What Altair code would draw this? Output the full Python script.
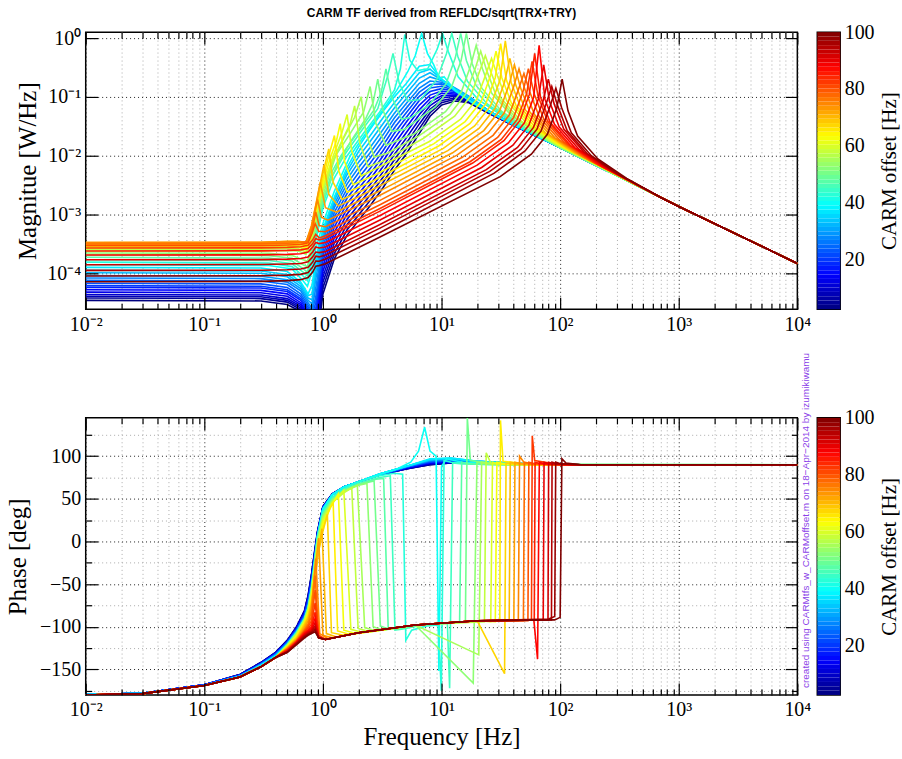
import altair as alt
import numpy as np
import pandas as pd

SERIF = "Liberation Serif"
SANS = "Liberation Sans"

TITLE = "CARM TF derived from REFLDC/sqrt(TRX+TRY)"
CREDIT = "created using CARMtfs_w_CARMoffset.m on 18\u2212Apr\u22122014 by izumikiwamu"
MAG_LABEL = "Magnitue [W/Hz]"
PH_LABEL = "Phase [deg]"
F_LABEL = "Frequency [Hz]"
CB_LABEL = "CARM offset [Hz]"

X_DECADES = [0.01, 0.1, 1, 10, 100, 1000, 10000]
X_MINOR = [k * 10.0 ** d for d in range(-2, 4) for k in range(2, 10)]
MAG_DECADES = [1e-4, 1e-3, 1e-2, 1e-1, 1]
PH_MAJOR = [-150, -100, -50, 0, 50, 100]
PH_MINOR = [-175, -125, -75, -25, 25, 75, 125]
CB_TICKS = [20, 40, 60, 80, 100]

# ---------------- non-resonant (blue) curves : log10 magnitude on a shared grid
BLUE_OFFSETS = [2.5, 5.0, 7.5, 10.0, 12.5, 15.0, 17.5, 20.0, 22.5, 25.0, 27.5, 30.0, 32.5, 35.0, 37.5]
BLUE_MAG_F = [0.01, 0.3, 0.5, 0.65, 0.75, 0.81, 0.87, 1.0, 1.25, 1.6, 2.0, 2.5, 3.2, 4.0, 5.0, 6.5, 8.0, 10, 13, 17, 25, 40, 100]
LM_02_5 = [-4.46, -4.47, -4.53, -4.65, -4.85, -5.20, -5.30, -4.35, -3.75, -3.35, -3.10, -2.85, -2.55, -2.25, -1.98, -1.62, -1.33, -1.14, -1.07, -1.10, -1.28, -1.48, -1.86]
LM_05_0 = [-4.42, -4.43, -4.49, -4.62, -4.82, -5.10, -5.20, -4.25, -3.66, -3.26, -3.01, -2.76, -2.46, -2.16, -1.89, -1.54, -1.27, -1.10, -1.04, -1.09, -1.28, -1.48, -1.86]
LM_07_5 = [-4.39, -4.40, -4.46, -4.59, -4.79, -5.00, -5.10, -4.15, -3.57, -3.17, -2.92, -2.67, -2.37, -2.07, -1.80, -1.46, -1.21, -1.06, -1.02, -1.08, -1.27, -1.48, -1.86]
LM_10_0 = [-4.36, -4.37, -4.43, -4.56, -4.76, -4.95, -5.00, -4.06, -3.48, -3.08, -2.83, -2.58, -2.28, -1.98, -1.71, -1.38, -1.15, -1.02, -0.99, -1.07, -1.27, -1.48, -1.86]
LM_12_5 = [-4.32, -4.33, -4.39, -4.53, -4.73, -4.90, -4.90, -3.97, -3.39, -2.99, -2.74, -2.49, -2.19, -1.89, -1.62, -1.30, -1.09, -0.98, -0.97, -1.06, -1.26, -1.47, -1.86]
LM_15_0 = [-4.28, -4.29, -4.35, -4.50, -4.70, -4.85, -4.80, -3.88, -3.30, -2.90, -2.65, -2.40, -2.10, -1.80, -1.53, -1.22, -1.03, -0.94, -0.95, -1.05, -1.26, -1.47, -1.86]
LM_17_5 = [-4.24, -4.25, -4.31, -4.46, -4.66, -4.80, -4.70, -3.79, -3.21, -2.81, -2.56, -2.31, -2.01, -1.71, -1.44, -1.14, -0.97, -0.90, -0.93, -1.04, -1.25, -1.47, -1.86]
LM_20_0 = [-4.21, -4.22, -4.28, -4.43, -4.62, -4.75, -4.60, -3.70, -3.12, -2.72, -2.47, -2.22, -1.92, -1.62, -1.36, -1.06, -0.91, -0.86, -0.91, -1.03, -1.25, -1.47, -1.86]
LM_22_5 = [-4.17, -4.18, -4.24, -4.39, -4.58, -4.70, -4.50, -3.62, -3.04, -2.64, -2.38, -2.13, -1.83, -1.53, -1.28, -0.99, -0.85, -0.82, -0.89, -1.02, -1.25, -1.47, -1.86]
LM_25_0 = [-4.12, -4.13, -4.19, -4.35, -4.54, -4.65, -4.40, -3.54, -2.96, -2.56, -2.29, -2.04, -1.74, -1.44, -1.20, -0.92, -0.79, -0.78, -0.87, -1.01, -1.24, -1.47, -1.86]
LM_27_5 = [-4.08, -4.09, -4.15, -4.30, -4.50, -4.60, -4.25, -3.46, -2.88, -2.48, -2.20, -1.95, -1.65, -1.36, -1.12, -0.85, -0.73, -0.75, -0.86, -1.00, -1.24, -1.46, -1.86]
LM_30_0 = [-4.04, -4.05, -4.11, -4.26, -4.46, -4.52, -4.10, -3.40, -2.82, -2.40, -2.11, -1.86, -1.56, -1.28, -1.04, -0.77, -0.66, -0.72, -0.85, -0.99, -1.24, -1.46, -1.86]
LM_32_5 = [-3.99, -4.00, -4.06, -4.22, -4.42, -4.45, -3.97, -3.34, -2.76, -2.32, -2.02, -1.76, -1.46, -1.19, -0.95, -0.68, -0.59, -0.71, -0.86, -1.00, -1.24, -1.46, -1.86]
LM_35_0 = [-3.95, -3.96, -4.02, -4.18, -4.38, -4.35, -3.85, -3.29, -2.73, -2.26, -1.93, -1.66, -1.36, -1.10, -0.87, -0.59, -0.53, -0.70, -0.87, -1.01, -1.24, -1.46, -1.86]
LM_37_5 = [-3.90, -3.91, -3.97, -4.15, -4.35, -4.20, -3.75, -3.25, -2.70, -2.20, -1.85, -1.55, -1.25, -1.00, -0.78, -0.48, -0.45, -0.70, -0.90, -1.05, -1.25, -1.47, -1.86]

# phase of the blue curves on a shared grid
BLUE_PH_F = [0.01, 0.03, 0.1, 0.2, 0.3, 0.4, 0.5, 0.6, 0.7, 0.75, 0.8, 0.85, 0.9, 1.0, 1.2, 1.5, 2, 3, 5, 8, 12, 20, 50, 150, 10000]
PB_02_5 = [-179.5, -178, -168, -156, -142, -130, -116, -100, -81, -63, -39, -12, 12, 41, 56, 64, 70, 78, 85, 90, 92, 92, 91, 90, 90]
PB_05_0 = [-179.5, -178, -168, -156, -142, -130, -116, -100, -81, -64, -40, -13, 11, 41, 56, 64, 70, 78, 85, 90, 92, 92, 91, 90, 90]
PB_07_5 = [-179.5, -178, -168, -156, -142, -130, -117, -101, -82, -65, -41, -14, 11, 41, 56, 64, 70, 78, 85, 91, 92, 92, 91, 90, 90]
PB_10_0 = [-179.5, -178, -168, -156, -143, -131, -117, -101, -83, -66, -42, -15, 10, 40, 56, 64, 70, 78, 86, 91, 93, 92, 91, 90, 90]
PB_12_5 = [-179.5, -178, -168, -157, -143, -131, -117, -102, -84, -67, -44, -16, 10, 40, 55, 64, 70, 78, 86, 92, 93, 92, 91, 90, 90]
PB_15_0 = [-179.5, -178, -168, -157, -143, -131, -118, -102, -84, -68, -45, -17, 9, 40, 55, 64, 70, 78, 86, 92, 94, 92, 91, 90, 90]
PB_17_5 = [-179.5, -178, -168, -157, -143, -132, -118, -103, -85, -69, -46, -18, 9, 40, 55, 64, 70, 78, 87, 93, 94, 93, 91, 90, 90]
PB_20_0 = [-179.5, -178, -168, -157, -144, -132, -118, -103, -86, -70, -47, -19, 8, 39, 55, 64, 70, 78, 87, 93, 95, 93, 91, 90, 90]
PB_22_5 = [-179.5, -178, -168, -157, -144, -132, -119, -104, -87, -72, -49, -20, 8, 39, 55, 64, 70, 78, 87, 94, 95, 93, 91, 90, 90]
PB_25_0 = [-179.5, -178, -169, -158, -144, -133, -119, -104, -88, -73, -50, -21, 7, 39, 55, 64, 70, 78, 87, 94, 96, 93, 91, 90, 90]
PB_27_5 = [-179.5, -178, -169, -158, -144, -133, -119, -105, -88, -74, -52, -22, 7, 39, 55, 64, 70, 79, 88, 95, 96, 94, 91, 90, 90]
PB_30_0 = [-179.5, -178, -169, -158, -145, -133, -120, -105, -89, -76, -53, -23, 6, 38, 55, 64, 70, 79, 88, 95, 97, 94, 91, 90, 90]
PB_32_5 = [-179.5, -178, -169, -158, -145, -134, -120, -106, -90, -77, -55, -24, 6, 38, 55, 64, 70, 79, 88, 96, 97, 94, 91, 90, 90]
PB_35_0 = [-179.5, -178, -169, -158, -145, -134, -121, -106, -90, -78, -56, -24, 5, 38, 55, 64, 70, 79, 88, 96, 98, 94, 91, 90, 90]
PB_37_5 = [-179.5, -178, -169, -158, -145, -134, -121, -107, -91, -79, -57, -25, 5, 38, 55, 64, 70, 79, 88, 97, 98, 94, 91, 90, 90]

# common high-frequency asymptote and common low-frequency phase start
MAG_TAIL = [(700, 1.96e-3), (1000, 1.37e-3), (10000, 1.47e-4)]
PH_START = [(0.01, -180), (0.03, -178.5), (0.1, -169), (0.2, -159), (0.3, -147), (0.4, -136)]

# ---------------- resonant curves (frequency, magnitude)
MAG_R40_0 = [(0.01, 1.4e-4), (0.35, 1.36e-4), (0.55, 1.18e-4), (0.68, 7.5e-5), (0.74, 6.0e-5), (0.8, 1.0e-4), (0.87, 2.6e-4), (1.0, 7.0e-4), (1.25, 2.5e-3), (1.7, 1.0e-2), (2.3, 2.4e-2), (3.2, 6.0e-2), (4.2, 0.13), (5.2, 0.27), (6.0, 0.5), (6.8, 1.2), (7.6, 0.55), (8.6, 0.35), (9.6, 0.2), (10.5, 0.22), (13, 0.13), (18, 0.08), (30, 0.046), (60, 0.023), (100, 0.0138)]
MAG_R42_5 = [(0.01, 1.55e-4), (0.35, 1.5e-4), (0.55, 1.3e-4), (0.68, 9.0e-5), (0.74, 7.5e-5), (0.8, 1.4e-4), (0.87, 3.6e-4), (1.0, 1.3e-3), (1.25, 4.2e-3), (1.6, 1.0e-2), (2.2, 0.024), (3.0, 0.055), (4.0, 0.13), (4.5, 0.3), (4.9, 1.15), (5.4, 0.42), (6.3, 0.28), (7.65, 0.3), (9.2, 0.65), (10.2, 1.2), (11.4, 0.59), (13.8, 0.22), (20.4, 0.09), (35.7, 0.042), (100, 0.0138)]
MAG_R45_0 = [(0.01, 1.7e-4), (0.35, 1.65e-4), (0.55, 1.45e-4), (0.68, 1.05e-4), (0.74, 9.0e-5), (0.8, 1.7e-4), (0.87, 4.5e-4), (1.0, 1.5e-3), (1.2, 4.5e-3), (1.5, 1.0e-2), (2.1, 0.026), (2.9, 0.063), (3.5, 0.22), (3.9, 0.55), (4.4, 0.17), (5.2, 0.085), (6.7, 0.09), (9.15, 0.2), (11.0, 0.54), (12.2, 1.2), (13.7, 0.49), (16.5, 0.185), (24.4, 0.075), (42.7, 0.035), (100, 0.0138)]
MAG_R47_5 = [(0.01, 1.87e-4), (0.35, 1.82e-4), (0.55, 1.62e-4), (0.68, 1.2e-4), (0.74, 1.05e-4), (0.8, 2.0e-4), (0.87, 5.3e-4), (1.0, 1.7e-3), (1.2, 5.5e-3), (1.42, 1.0e-2), (2.0, 0.026), (2.7, 0.06), (3.1, 0.12), (3.4, 0.3), (3.8, 0.1), (4.6, 0.042), (5.6, 0.045), (8.0, 0.076), (10.9, 0.166), (13.05, 0.457), (14.5, 1.2), (16.2, 0.416), (19.6, 0.155), (29, 0.063), (50.8, 0.029), (100, 0.0138)]
MAG_R50_0 = [(0.01, 2.05e-4), (0.35, 2.0e-4), (0.55, 1.8e-4), (0.68, 1.4e-4), (0.74, 1.3e-4), (0.8, 2.4e-4), (0.87, 6.0e-4), (1.0, 1.9e-3), (1.3, 6.5e-3), (1.7, 0.017), (2.3, 0.043), (2.65, 0.08), (2.9, 0.2), (3.2, 0.06), (3.8, 0.026), (4.86, 0.028), (8.9, 0.068), (12.15, 0.148), (14.6, 0.41), (16.2, 1.2), (18.1, 0.37), (21.9, 0.139), (32.4, 0.056), (56.7, 0.026), (100, 0.0138)]
MAG_R52_5 = [(0.01, 2.22e-4), (0.35, 2.18e-4), (0.55, 2.0e-4), (0.68, 1.7e-4), (0.74, 1.6e-4), (0.8, 2.8e-4), (0.87, 7.0e-4), (1.0, 2.1e-3), (1.28, 1.0e-2), (1.7, 0.024), (2.2, 0.055), (2.5, 0.15), (2.8, 0.035), (3.4, 0.015), (5.9, 0.0235), (10.8, 0.056), (14.7, 0.122), (17.6, 0.338), (19.6, 0.75), (22, 0.308), (26.5, 0.115), (39.2, 0.047), (68.6, 0.022), (100, 0.0138)]
MAG_R55_0 = [(0.01, 2.4e-4), (0.3, 2.4e-4), (0.5, 2.45e-4), (0.62, 2.4e-4), (0.72, 2.1e-4), (0.8, 3.5e-4), (0.9, 1.1e-3), (1.0, 2.5e-3), (1.2, 7.5e-3), (1.5, 0.02), (1.85, 0.045), (2.1, 0.1), (2.3, 0.025), (2.7, 9.5e-3), (3.5, 0.011), (6.4, 0.0215), (11.8, 0.051), (16, 0.112), (19.3, 0.31), (21.4, 0.6), (24, 0.282), (28.9, 0.105), (42.8, 0.043), (74.9, 0.02), (100, 0.0145)]
MAG_R57_5 = [(0.01, 2.58e-4), (0.3, 2.58e-4), (0.5, 2.66e-4), (0.62, 2.62e-4), (0.72, 2.3e-4), (0.8, 3.8e-4), (0.9, 1.2e-3), (1.0, 2.7e-3), (1.2, 8.0e-3), (1.5, 0.021), (1.7, 0.035), (1.85, 0.07), (2.05, 0.016), (2.4, 6.5e-3), (3.2, 8.0e-3), (7.0, 0.0196), (12.9, 0.047), (17.55, 0.1025), (21.1, 0.283), (23.4, 0.5), (26.2, 0.257), (31.6, 0.096), (46.8, 0.039), (81.9, 0.018)]
MAG_R60_0 = [(0.01, 2.75e-4), (0.3, 2.76e-4), (0.5, 2.86e-4), (0.62, 2.82e-4), (0.72, 2.5e-4), (0.8, 4.2e-4), (0.9, 1.3e-3), (1.0, 3.0e-3), (1.2, 9.0e-3), (1.45, 0.025), (1.6, 0.05), (1.75, 0.012), (2.1, 4.5e-3), (3.0, 6.5e-3), (7.9, 0.0174), (14.5, 0.0417), (19.8, 0.091), (23.8, 0.251), (26.4, 0.45), (29.6, 0.2285), (35.6, 0.085), (52.8, 0.0346), (92.4, 0.0161)]
MAG_R62_5 = [(0.01, 2.9e-4), (0.3, 2.92e-4), (0.5, 3.03e-4), (0.62, 3.0e-4), (0.72, 2.7e-4), (0.8, 4.6e-4), (0.9, 1.4e-3), (1.0, 3.4e-3), (1.15, 9.0e-3), (1.3, 0.018), (1.4, 0.035), (1.52, 8.0e-3), (1.8, 3.2e-3), (2.8, 4.8e-3), (8.64, 0.016), (15.8, 0.038), (21.6, 0.083), (25.9, 0.23), (28.8, 0.6), (32.3, 0.209), (38.9, 0.078), (57.6, 0.0317), (100.8, 0.0148)]
MAG_R65_0 = [(0.01, 3.05e-4), (0.3, 3.08e-4), (0.5, 3.2e-4), (0.62, 3.18e-4), (0.72, 2.9e-4), (0.8, 5.0e-4), (0.9, 1.6e-3), (1.0, 4.0e-3), (1.12, 0.01), (1.25, 0.022), (1.36, 5.5e-3), (1.6, 2.4e-3), (2.5, 3.5e-3), (9.45, 0.0146), (17.3, 0.035), (23.6, 0.076), (28.35, 0.21), (31.5, 0.8), (35.3, 0.191), (42.5, 0.0713), (63, 0.0289), (110, 0.0135)]
MAG_R67_5 = [(0.01, 3.2e-4), (0.3, 3.23e-4), (0.5, 3.36e-4), (0.62, 3.34e-4), (0.72, 3.05e-4), (0.8, 5.5e-4), (0.9, 1.8e-3), (1.0, 5.0e-3), (1.12, 0.013), (1.22, 3.5e-3), (1.45, 1.8e-3), (2.2, 2.6e-3), (10.35, 0.0133), (19, 0.032), (25.9, 0.07), (31.05, 0.192), (34.5, 0.9), (38.6, 0.175), (46.6, 0.065), (69, 0.0265), (120.8, 0.0124)]
MAG_R70_0 = [(0.01, 3.3e-4), (0.3, 3.33e-4), (0.5, 3.46e-4), (0.62, 3.45e-4), (0.72, 3.2e-4), (0.8, 6.0e-4), (0.9, 2.0e-3), (1.02, 7.0e-3), (1.12, 2.2e-3), (1.35, 1.4e-3), (2.0, 2.0e-3), (11.3, 0.0122), (20.7, 0.029), (28.3, 0.064), (33.9, 0.176), (37.7, 0.45), (42.2, 0.16), (50.9, 0.06), (75.4, 0.0242), (132, 0.0113)]
MAG_R72_5 = [(0.01, 3.35e-4), (0.3, 3.38e-4), (0.5, 3.5e-4), (0.62, 3.5e-4), (0.72, 3.3e-4), (0.8, 6.5e-4), (0.88, 1.6e-3), (0.95, 3.5e-3), (1.05, 1.3e-3), (1.3, 1.1e-3), (3.0, 2.5e-3), (12.4, 0.0112), (22.7, 0.0267), (30.9, 0.058), (37.1, 0.161), (41.2, 0.35), (46.1, 0.1465), (55.6, 0.055), (82.4, 0.0222), (144, 0.0104)]
MAG_R75_0 = [(0.01, 3.3e-4), (0.3, 3.32e-4), (0.5, 3.42e-4), (0.62, 3.45e-4), (0.72, 3.4e-4), (0.8, 6.0e-4), (0.9, 1.8e-3), (0.97, 9.0e-4), (1.1, 8.0e-4), (3.0, 2.1e-3), (13.5, 0.0102), (24.75, 0.0244), (33.75, 0.053), (40.5, 0.147), (45, 0.3), (50.4, 0.134), (60.75, 0.05), (90, 0.0203), (157.5, 0.0095)]
MAG_R77_5 = [(0.01, 3.15e-4), (0.3, 3.17e-4), (0.5, 3.25e-4), (0.65, 3.3e-4), (0.75, 3.5e-4), (0.82, 6.0e-4), (0.87, 1.1e-3), (0.93, 6.5e-4), (1.05, 6.2e-4), (3.0, 1.72e-3), (14.85, 0.0093), (27.2, 0.0222), (37.1, 0.0485), (44.55, 0.134), (49.5, 0.25), (55.4, 0.122), (66.8, 0.0455), (99, 0.0184), (173, 0.0086)]
MAG_R80_0 = [(0.01, 2.95e-4), (0.3, 2.96e-4), (0.5, 3.02e-4), (0.65, 3.08e-4), (0.75, 3.3e-4), (0.81, 4.8e-4), (0.86, 7.0e-4), (0.92, 5.2e-4), (1.05, 5.1e-4), (3.0, 1.45e-3), (16.2, 0.0085), (29.7, 0.0204), (40.5, 0.0444), (48.6, 0.123), (54, 0.3), (60.5, 0.1115), (72.9, 0.0416), (108, 0.0169), (189, 0.0079)]
MAG_R82_5 = [(0.01, 2.7e-4), (0.3, 2.71e-4), (0.5, 2.76e-4), (0.65, 2.82e-4), (0.75, 3.0e-4), (0.82, 3.7e-4), (0.87, 4.6e-4), (0.93, 4.0e-4), (1.05, 4.35e-4), (3.0, 1.25e-3), (17.4, 0.0079), (31.9, 0.0189), (43.5, 0.0413), (52.2, 0.114), (58, 0.4), (65, 0.104), (78.3, 0.0387), (116, 0.0157), (203, 0.0073)]
MAG_R85_0 = [(0.01, 2.4e-4), (0.3, 2.41e-4), (0.5, 2.45e-4), (0.65, 2.5e-4), (0.75, 2.65e-4), (0.82, 3.2e-4), (0.87, 3.9e-4), (0.93, 3.7e-4), (1.05, 3.95e-4), (3.0, 1.13e-3), (18.3, 0.0075), (33.55, 0.018), (45.75, 0.0394), (54.9, 0.109), (61, 0.55), (68.3, 0.099), (82.35, 0.037), (122, 0.015), (213.5, 0.007)]
MAG_R87_5 = [(0.01, 2.05e-4), (0.3, 2.06e-4), (0.5, 2.1e-4), (0.65, 2.15e-4), (0.75, 2.3e-4), (0.82, 2.8e-4), (0.87, 3.35e-4), (0.93, 3.2e-4), (1.05, 3.35e-4), (3.0, 9.5e-4), (19.95, 0.0069), (36.6, 0.0165), (49.9, 0.036), (59.85, 0.0995), (66.5, 0.75), (74.5, 0.0905), (89.8, 0.0338), (133, 0.0137), (232.75, 0.0064)]
MAG_R90_0 = [(0.01, 1.7e-4), (0.3, 1.71e-4), (0.5, 1.74e-4), (0.65, 1.78e-4), (0.75, 1.9e-4), (0.82, 2.3e-4), (0.87, 2.8e-4), (0.93, 2.7e-4), (1.05, 2.8e-4), (3.0, 8.0e-4), (21.8, 0.0063), (40, 0.0151), (54.5, 0.033), (65.4, 0.0912), (72.7, 0.35), (81.4, 0.083), (98.1, 0.031), (145.4, 0.0126), (254.5, 0.0059)]
MAG_R92_5 = [(0.01, 1.4e-4), (0.3, 1.41e-4), (0.5, 1.44e-4), (0.65, 1.47e-4), (0.75, 1.57e-4), (0.82, 1.9e-4), (0.87, 2.3e-4), (0.93, 2.25e-4), (1.05, 2.35e-4), (3.0, 6.7e-4), (23.85, 0.0058), (43.7, 0.0138), (59.6, 0.0302), (71.55, 0.0834), (79.5, 0.2), (89, 0.0759), (107.3, 0.0283), (159, 0.0115), (278, 0.0054)]
MAG_R95_0 = [(0.01, 1.12e-4), (0.3, 1.13e-4), (0.5, 1.15e-4), (0.65, 1.18e-4), (0.75, 1.26e-4), (0.82, 1.55e-4), (0.87, 1.95e-4), (0.93, 1.9e-4), (1.05, 2.05e-4), (3.0, 5.8e-4), (25.5, 0.0054), (46.75, 0.0129), (63.75, 0.0282), (76.5, 0.078), (85, 0.15), (95.2, 0.0709), (114.75, 0.0265), (170, 0.0107), (297.5, 0.005)]
MAG_R97_5 = [(0.01, 9.0e-5), (0.3, 9.1e-5), (0.5, 9.3e-5), (0.65, 9.6e-5), (0.75, 1.03e-4), (0.82, 1.28e-4), (0.87, 1.62e-4), (0.93, 1.6e-4), (1.05, 1.75e-4), (3.0, 4.9e-4), (27.6, 0.005), (50.6, 0.012), (69, 0.0261), (82.8, 0.072), (92, 0.14), (103, 0.0655), (124.2, 0.0245), (184, 0.0099), (322, 0.0046)]
MAG_R100 = [(0.01, 7.2e-5), (0.3, 7.3e-5), (0.5, 7.5e-5), (0.65, 7.8e-5), (0.75, 8.5e-5), (0.82, 1.05e-4), (0.87, 1.32e-4), (0.93, 1.35e-4), (1.05, 1.45e-4), (3.0, 4.1e-4), (31.2, 0.0044), (57.2, 0.0106), (78, 0.0231), (93.6, 0.0638), (104, 0.2), (116.5, 0.058), (140.4, 0.0216), (208, 0.0088), (364, 0.0041)]

# ---------------- resonant curves (frequency, phase) after the common start
PH_R40_0 = [(0.5, -121), (0.6, -107), (0.7, -91), (0.75, -79), (0.8, -57), (0.85, -25), (0.9, 5), (1.0, 38), (1.2, 55), (1.5, 64), (2, 70), (3, 79), (4.2, 85), (5.5, 93), (6.4, 106), (7.2, 134), (8.0, 106), (9.0, 100), (9.5, -152), (10.0, 88), (11, 97), (15, 93), (30, 91), (100, 90), (10000, 90)]
PH_R42_5 = [(0.5, -121), (0.6, -107), (0.7, -91), (0.75, -78), (0.8, -56), (0.85, -25), (0.9, 4), (1.0, 35), (1.2, 52), (1.5, 62), (2.0, 70), (3.0, 77), (4.0, 80), (4.7, 79), (5.0, -116), (5.6, -104), (7.5, -99), (9.4, -98), (9.95, -175), (10.5, 95), (12, 93), (20, 91), (60, 90), (10000, 90)]
PH_R45_0 = [(0.5, -121), (0.6, -107), (0.7, -91), (0.75, -78), (0.8, -57), (0.85, -26), (0.9, 3), (1.0, 33), (1.2, 51), (1.5, 61), (2.0, 68), (3.0, 75), (3.7, 77), (4.05, -104), (4.6, -103), (7, -98), (11.2, -96), (11.7, -172), (12.4, 92), (15, 91), (30, 90), (10000, 90)]
PH_R47_5 = [(0.5, -121), (0.6, -107), (0.7, -91), (0.75, -78), (0.8, -57), (0.85, -27), (0.9, 2), (1.0, 32), (1.2, 50), (1.5, 60), (2.0, 67), (2.8, 73), (3.25, 74), (3.55, -101), (4.2, -103), (7, -98), (14.2, -95), (14.8, 93), (17, 91), (30, 90), (10000, 90)]
PH_R50_0 = [(0.5, -122), (0.6, -108), (0.7, -91), (0.75, -79), (0.8, -58), (0.85, -28), (0.9, 1), (1.0, 31), (1.2, 49), (1.5, 60), (2.0, 67), (2.7, 71), (3.05, -99), (3.6, -103), (6, -98), (15.9, -94), (16.5, 145), (17.5, 95), (30, 91), (10000, 90)]
PH_R52_5 = [(0.5, -122), (0.6, -108), (0.7, -92), (0.75, -80), (0.8, -59), (0.85, -29), (0.9, 0), (1.0, 30), (1.2, 48), (1.5, 59), (2.0, 66), (2.35, 68), (2.65, -100), (3.2, -104), (6, -98), (18.5, -166), (19.9, 93), (24, 91), (40, 90), (10000, 90)]
PH_R55_0 = [(0.5, -122), (0.6, -109), (0.7, -92), (0.75, -80), (0.8, -60), (0.85, -31), (0.9, -2), (1.0, 28), (1.2, 47), (1.5, 58), (1.95, 66), (2.25, -101), (2.8, -105), (6, -98), (20.6, -133), (21.8, 93), (26, 91), (40, 90), (10000, 90)]
PH_R57_5 = [(0.5, -123), (0.6, -109), (0.7, -93), (0.75, -81), (0.8, -61), (0.85, -33), (0.9, -4), (1.0, 26), (1.2, 46), (1.5, 57), (1.75, 63), (1.98, -102), (2.5, -106), (6, -98), (23, -94), (23.8, 104), (26, 92), (40, 90), (10000, 90)]
PH_R60_0 = [(0.5, -123), (0.6, -110), (0.7, -94), (0.75, -82), (0.8, -63), (0.85, -35), (0.9, -6), (1.0, 24), (1.2, 45), (1.5, 60), (1.72, -103), (2.2, -107), (6, -98), (20, -93), (26, -94), (26.9, 93), (30, 91), (50, 90), (10000, 90)]
PH_R62_5 = [(0.5, -123), (0.6, -111), (0.7, -95), (0.75, -84), (0.8, -65), (0.85, -38), (0.9, -9), (1.0, 21), (1.2, 44), (1.35, 56), (1.5, -104), (1.9, -108), (6, -98), (20, -93), (28.4, -94), (29.3, 93), (34, 91), (60, 90), (10000, 90)]
PH_R65_0 = [(0.5, -124), (0.6, -112), (0.7, -96), (0.75, -86), (0.8, -68), (0.85, -42), (0.9, -13), (1.0, 16), (1.15, 40), (1.22, 45), (1.33, -105), (1.7, -109), (6, -98), (20, -93), (31.0, -93), (31.4, 142), (33, 94), (60, 90), (10000, 90)]
PH_R67_5 = [(0.5, -124), (0.6, -113), (0.7, -97), (0.75, -88), (0.8, -71), (0.85, -46), (0.9, -17), (1.0, 12), (1.09, 32), (1.18, -107), (1.5, -110), (6, -98), (20, -93), (34.0, -155), (35.0, 92), (40, 91), (60, 90), (10000, 90)]
PH_R70_0 = [(0.5, -125), (0.6, -114), (0.7, -99), (0.75, -90), (0.8, -74), (0.85, -50), (0.9, -22), (0.98, 15), (1.07, -108), (1.3, -112), (2, -107), (6, -98), (20, -93), (37.2, -93), (38.0, 93), (44, 91), (80, 90), (10000, 90)]
PH_R72_5 = [(0.5, -125), (0.6, -115), (0.7, -101), (0.75, -93), (0.8, -78), (0.85, -40), (0.92, 4), (1.0, -110), (1.2, -113), (2, -107), (6, -98), (20, -93), (40.7, -93), (41.6, 93), (48, 91), (80, 90), (10000, 90)]
PH_R75_0 = [(0.5, -126), (0.6, -116), (0.7, -103), (0.75, -96), (0.8, -82), (0.87, -20), (0.94, -108), (1.1, -114), (2, -107), (6, -98), (20, -93), (44.4, -93), (45.5, 100), (50, 92), (80, 90), (10000, 90)]
PH_R77_5 = [(0.5, -126), (0.6, -116), (0.7, -104), (0.75, -98), (0.8, -88), (0.86, -40), (0.92, -110), (1.05, -115), (2, -107), (6, -98), (20, -93), (49, -93), (50, 93), (58, 91), (100, 90), (10000, 90)]
PH_R80_0 = [(0.5, -127), (0.6, -117), (0.7, -105), (0.75, -100), (0.8, -93), (0.86, -57), (0.92, -110), (1.05, -115), (2, -107), (6, -98), (20, -93), (53.5, -93), (54.5, 93), (62, 91), (100, 90), (10000, 90)]
PH_R82_5 = [(0.5, -127), (0.6, -117), (0.7, -106), (0.75, -102), (0.8, -97), (0.86, -72), (0.92, -111), (1.05, -115), (2, -107), (6, -98), (20, -93), (57.3, -92), (58.2, 124), (61, 95), (100, 90), (10000, 90)]
PH_R85_0 = [(0.5, -128), (0.6, -118), (0.7, -107), (0.75, -104), (0.8, -100), (0.86, -83), (0.92, -112), (1.05, -115), (2, -107), (6, -98), (20, -93), (60.5, -92), (61.5, 93), (70, 91), (100, 90), (10000, 90)]
PH_R87_5 = [(0.5, -128), (0.6, -118), (0.7, -108), (0.75, -105), (0.8, -102), (0.86, -90), (0.92, -112), (1.05, -115), (2, -107), (6, -98), (20, -93), (60, -92), (64.5, -138), (66.8, 93), (75, 91), (120, 90), (10000, 90)]
PH_R90_0 = [(0.5, -129), (0.6, -119), (0.7, -109), (0.75, -106), (0.8, -104), (0.86, -95), (0.92, -113), (1.05, -115), (2, -107), (6, -98), (20, -93), (72, -92), (73.2, 93), (82, 91), (120, 90), (10000, 90)]
PH_R92_5 = [(0.5, -129), (0.6, -119), (0.7, -110), (0.75, -107), (0.8, -105), (0.86, -99), (0.92, -113), (1.05, -115), (2, -107), (6, -98), (20, -93), (79, -92), (80, 93), (90, 91), (150, 90), (10000, 90)]
PH_R95_0 = [(0.5, -130), (0.6, -120), (0.7, -111), (0.75, -108), (0.8, -106), (0.86, -102), (0.92, -113), (1.05, -115), (2, -107), (6, -98), (20, -93), (84.5, -92), (85.5, 93), (95, 91), (150, 90), (10000, 90)]
PH_R97_5 = [(0.5, -130), (0.6, -120), (0.7, -112), (0.75, -109), (0.8, -107), (0.86, -104), (0.92, -113), (1.05, -115), (2, -107), (6, -98), (20, -93), (80, -91), (90, -88), (91.8, 93), (102, 91), (150, 90), (10000, 90)]
PH_R100 = [(0.5, -130), (0.6, -121), (0.7, -113), (0.75, -110), (0.8, -108), (0.86, -106), (0.92, -113), (1.05, -115), (2, -107), (6, -98), (20, -93), (90, -92), (100, -89), (103.5, 97), (112, 92), (150, 90), (10000, 90)]

# ---------------- assemble tables
BLUE_LM = [LM_02_5, LM_05_0, LM_07_5, LM_10_0, LM_12_5, LM_15_0, LM_17_5, LM_20_0,
           LM_22_5, LM_25_0, LM_27_5, LM_30_0, LM_32_5, LM_35_0, LM_37_5]
BLUE_PB = [PB_02_5, PB_05_0, PB_07_5, PB_10_0, PB_12_5, PB_15_0, PB_17_5, PB_20_0,
           PB_22_5, PB_25_0, PB_27_5, PB_30_0, PB_32_5, PB_35_0, PB_37_5]
RES_OFFSETS = [40.0, 42.5, 45.0, 47.5, 50.0, 52.5, 55.0, 57.5, 60.0, 62.5, 65.0, 67.5, 70.0,
               72.5, 75.0, 77.5, 80.0, 82.5, 85.0, 87.5, 90.0, 92.5, 95.0, 97.5, 100.0]
RES_MAG = [MAG_R40_0, MAG_R42_5, MAG_R45_0, MAG_R47_5, MAG_R50_0, MAG_R52_5, MAG_R55_0, MAG_R57_5,
           MAG_R60_0, MAG_R62_5, MAG_R65_0, MAG_R67_5, MAG_R70_0, MAG_R72_5, MAG_R75_0, MAG_R77_5,
           MAG_R80_0, MAG_R82_5, MAG_R85_0, MAG_R87_5, MAG_R90_0, MAG_R92_5, MAG_R95_0, MAG_R97_5, MAG_R100]
RES_PH = [PH_R40_0, PH_R42_5, PH_R45_0, PH_R47_5, PH_R50_0, PH_R52_5, PH_R55_0, PH_R57_5,
          PH_R60_0, PH_R62_5, PH_R65_0, PH_R67_5, PH_R70_0, PH_R72_5, PH_R75_0, PH_R77_5,
          PH_R80_0, PH_R82_5, PH_R85_0, PH_R87_5, PH_R90_0, PH_R92_5, PH_R95_0, PH_R97_5, PH_R100]

mag_rows, ph_rows = [], []
for o, lm, pb in zip(BLUE_OFFSETS, BLUE_LM, BLUE_PB, strict=True):
    pts = [(f, 10.0 ** v) for f, v in zip(BLUE_MAG_F, lm, strict=True)] + MAG_TAIL
    for i, (f, m) in enumerate(pts):
        mag_rows.append((o, f, m, i))
    for i, (f, p) in enumerate(zip(BLUE_PH_F, pb, strict=True)):
        ph_rows.append((o, f, p, i))
for o, mg, ph in zip(RES_OFFSETS, RES_MAG, RES_PH, strict=True):
    for i, (f, m) in enumerate(mg + MAG_TAIL):
        mag_rows.append((o, f, m, i))
    for i, (f, p) in enumerate(PH_START + ph):
        ph_rows.append((o, f, p, i))
mag_df = pd.DataFrame(mag_rows, columns=["offset", "f", "m", "idx"])
ph_df = pd.DataFrame(ph_rows, columns=["offset", "f", "p", "idx"])

# ---------------- scales
XS = alt.Scale(type="log", domain=[0.01, 10000], nice=False)
YS_MAG = alt.Scale(type="log", domain=[2.45e-5, 1.26], nice=False)
YS_PH = alt.Scale(domain=[-180, 145], nice=False, zero=False)
JET_STOPS = [2.5, 14.6875, 39.0625, 63.4375, 87.8125, 100.0]
JET_COLORS = ["#00007F", "#0000FF", "#00FFFF", "#FFFF00", "#FF0000", "#7F0000"]
CS = alt.Scale(domain=JET_STOPS, range=JET_COLORS, interpolate="rgb")

LOGE = "log(datum.value)/LN10"
MAJOR_X_TEST = "abs(" + LOGE + " - round(" + LOGE + ")) < 0.001"
SUP = ("'10' + (round(" + LOGE + ") < 0 ? '\u207b' : '') + "
       "['\u2070','\u00b9','\u00b2','\u00b3','\u2074','\u2075'][abs(round(" + LOGE + "))]")


def grid_axis(orient, values, test):
    kw = dict(orient=orient, values=values, grid=True, gridDash=[1, 3], gridWidth=1,
              labels=False, ticks=False, domain=False, title=None, zindex=0)
    if test:
        kw["gridColor"] = {"condition": {"test": test, "value": "#222222"}, "value": "#ababab"}
    else:
        kw["gridColor"] = "#222222"
    return alt.Axis(**kw)


def tick_axis(orient, values, size):
    return alt.Axis(orient=orient, values=values, offset=-size, tickSize=size, ticks=True,
                    tickColor="black", tickWidth=1.2, labels=False, domain=False,
                    grid=False, title=None, zindex=2)


def label_x(title):
    kw = dict(orient="bottom", values=X_DECADES, labelExpr=SUP, ticks=False, domain=False,
              grid=False, labelPadding=5, labelFlush=False, labelOverlap=False, labelBound=False,
              labelFont=SERIF, labelFontSize=20, labelColor="black", zindex=1)
    if title:
        kw.update(title=title, titleFont=SERIF, titleFontSize=25, titleFontWeight="normal",
                  titleColor="black", titlePadding=5)
    else:
        kw["title"] = None
    return alt.Axis(**kw)


def label_y(values, title, expr, pad):
    kw = dict(orient="left", values=values, ticks=False, domain=False, grid=False,
              labelPadding=5, labelFlush=False, labelOverlap=False, labelBound=False,
              labelFont=SERIF, labelFontSize=20, labelColor="black",
              title=title, titleFont=SERIF, titleFontSize=25, titleFontWeight="normal",
              titleColor="black", titlePadding=pad, zindex=1)
    if expr:
        kw["labelExpr"] = expr
    return alt.Axis(**kw)


def carrier(ys, ydummy, xaxis, yaxis):
    d = pd.DataFrame({"x": [1.0], "y": [ydummy]})
    return alt.Chart(d).mark_point(opacity=0, size=1).encode(
        x=alt.X("x:Q", scale=XS, axis=xaxis),
        y=alt.Y("y:Q", scale=ys, axis=yaxis),
    )


W, H = 714, 278

mag_lines = alt.Chart(mag_df).mark_line(strokeWidth=1.6, clip=True).encode(
    x=alt.X("f:Q", scale=XS, axis=None),
    y=alt.Y("m:Q", scale=YS_MAG, axis=None),
    color=alt.Color("offset:Q", scale=CS, legend=None),
    detail="offset:N",
    order="idx:Q",
)
ph_lines = alt.Chart(ph_df).mark_line(strokeWidth=1.6, clip=True).encode(
    x=alt.X("f:Q", scale=XS, axis=None),
    y=alt.Y("p:Q", scale=YS_PH, axis=None),
    color=alt.Color("offset:Q", scale=CS, legend=None),
    detail="offset:N",
    order="idx:Q",
)

top = alt.layer(
    carrier(YS_MAG, 1e-3, grid_axis("bottom", X_DECADES + X_MINOR, MAJOR_X_TEST), grid_axis("left", MAG_DECADES, None)),
    mag_lines,
    carrier(YS_MAG, 1e-3, label_x(None), label_y(MAG_DECADES, MAG_LABEL, SUP, 6)),
    carrier(YS_MAG, 1e-3, tick_axis("bottom", X_DECADES, 12), tick_axis("left", MAG_DECADES, 12)),
    carrier(YS_MAG, 1e-3, tick_axis("bottom", X_MINOR, 6), None),
    carrier(YS_MAG, 1e-3, tick_axis("top", X_DECADES, 12), tick_axis("right", MAG_DECADES, 12)),
    carrier(YS_MAG, 1e-3, tick_axis("top", X_MINOR, 6), None),
).resolve_axis(x="independent", y="independent").properties(
    width=W, height=H,
    title=alt.TitleParams(TITLE, font=SANS, fontSize=12, fontWeight="bold", color="black",
                          anchor="middle", offset=8),
)

credit = alt.Chart(pd.DataFrame({"t": [CREDIT]})).mark_text(
    angle=270, align="left", baseline="middle", font=SANS, fontSize=10, color="#8B3FE8"
).encode(x=alt.value(W + 9), y=alt.value(H - 7), text="t:N")

bottom = alt.layer(
    carrier(YS_PH, 0, grid_axis("bottom", X_DECADES + X_MINOR, MAJOR_X_TEST),
            grid_axis("left", PH_MAJOR + PH_MINOR, "datum.value % 50 == 0")),
    ph_lines,
    carrier(YS_PH, 0, label_x(F_LABEL), label_y(PH_MAJOR, PH_LABEL, None, 9)),
    carrier(YS_PH, 0, tick_axis("bottom", X_DECADES, 12), tick_axis("left", PH_MAJOR, 12)),
    carrier(YS_PH, 0, tick_axis("bottom", X_MINOR, 6), tick_axis("left", PH_MINOR, 6)),
    carrier(YS_PH, 0, tick_axis("top", X_DECADES, 12), tick_axis("right", PH_MAJOR, 12)),
    carrier(YS_PH, 0, tick_axis("top", X_MINOR, 6), tick_axis("right", PH_MINOR, 6)),
    credit,
).resolve_axis(x="independent", y="independent").properties(width=W, height=H)

# colour bar (64 bands of the jet map over the offset range)
N_BANDS = 64
edges = np.linspace(2.5, 100.0, N_BANDS + 1)
cb_df = pd.DataFrame({"lo": edges[:-1], "hi": edges[1:], "mid": (edges[:-1] + edges[1:]) / 2,
                      "x0": 0.0, "x1": 1.0})


def colorbar():
    return alt.Chart(cb_df).mark_rect(strokeWidth=0).encode(
        x=alt.X("x0:Q", scale=alt.Scale(domain=[0, 1], nice=False, zero=False), axis=None),
        x2="x1:Q",
        y=alt.Y("lo:Q", scale=alt.Scale(domain=[2.5, 100], nice=False, zero=False),
                axis=alt.Axis(orient="right", values=CB_TICKS, ticks=False, domain=False, grid=False,
                              labelFont=SERIF, labelFontSize=20, labelColor="black", labelPadding=4,
                              title=CB_LABEL, titleFont=SERIF, titleFontSize=21,
                              titleFontWeight="normal", titleColor="black", titleAngle=270,
                              titleBaseline="top", titlePadding=4)),
        y2="hi:Q",
        color=alt.Color("mid:Q", scale=CS, legend=None),
    ).properties(width=23, height=H)


chart = alt.concat(
    top, colorbar(), bottom, colorbar(),
    columns=2, spacing={"row": 109, "column": 20}, bounds="flush",
).properties(
    padding={"left": 4, "top": 5, "right": 2, "bottom": 2}
).configure_view(stroke="black", strokeWidth=1.5)

chart.save("out.html", embed_options={"renderer": "svg", "actions": False})
